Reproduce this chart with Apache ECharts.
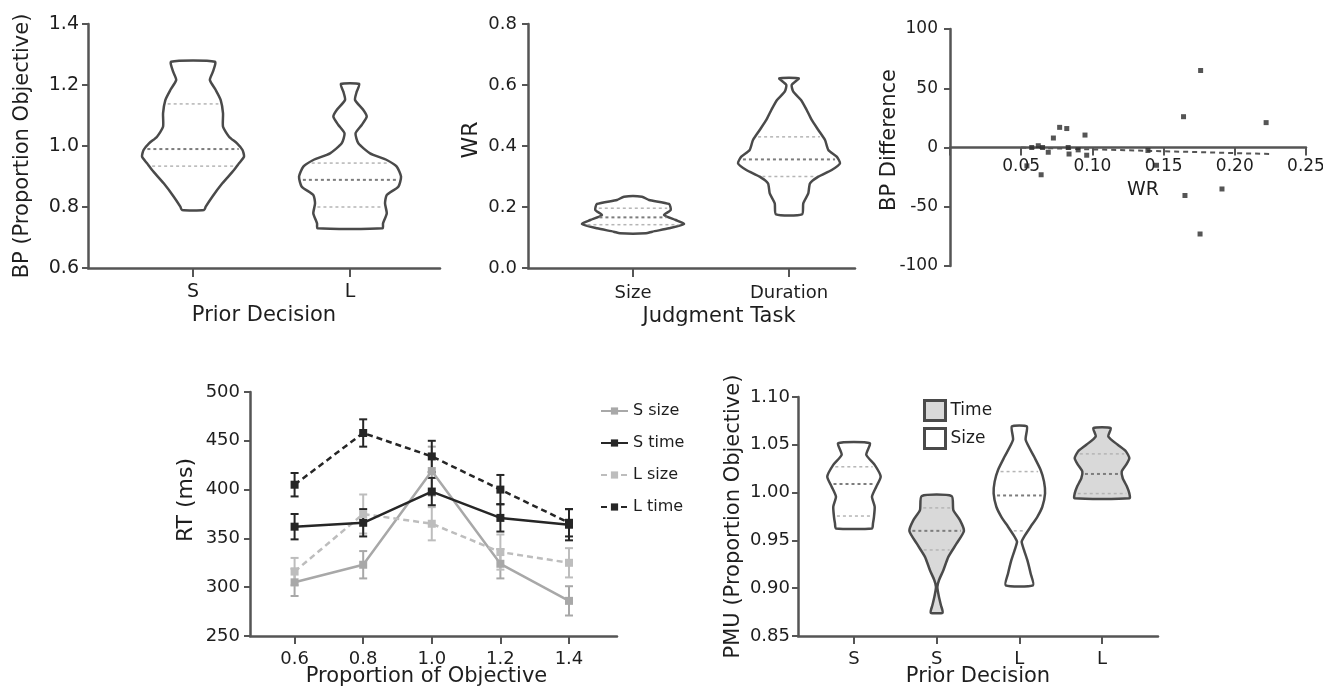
<!DOCTYPE html>
<html><head><meta charset="utf-8">
<script src="https://cdn.jsdelivr.net/npm/echarts@6/dist/echarts.min.js"></script>
<style>html,body{margin:0;padding:0;background:#fff}#c{width:1323px;height:690px}</style>
</head><body><div id="c"></div>
<script>
// ================= DATA =================
// Panel A: BP (Proportion Objective) by prior decision – violin density profiles [value, relative density]
const bpCategories = ['S', 'L'];
const bpProfileS = [[1.2765,0.43],[1.2437,0.39],[1.2164,0.33],[1.1836,0.445],[1.1508,0.543],[1.1071,0.588],[1.0633,0.588],[1.0305,0.706],[1.0087,0.863],[0.9868,0.97],[0.965,1.0],[0.9432,0.902],[0.9213,0.804],[0.8776,0.575],[0.8338,0.378],[0.801,0.249],[0.7901,0.216]];
const bpProfileL = [[1.2033,0.18],[1.1781,0.131],[1.1508,0.098],[1.118,0.261],[1.0961,0.327],[1.0688,0.229],[1.0416,0.108],[1.0087,0.163],[0.976,0.392],[0.9541,0.72],[0.9322,0.916],[0.8994,1.0],[0.8666,0.947],[0.8393,0.72],[0.812,0.686],[0.7792,0.72],[0.7465,0.647],[0.7301,0.637]];
const bpQuartiles = [[1.138, 0.99, 0.934], [0.944, 0.889, 0.80]];  // [Q3, median, Q1]

// Panel B: WR by judgment task
const wrCategories = ['Size', 'Duration'];
const wrProfileSize = [[0.2339,0.176],[0.223,0.314],[0.2099,0.706],[0.1902,0.739],[0.1738,0.608],[0.1574,0.837],[0.1443,1.0],[0.1301,0.706],[0.1191,0.378],[0.1137,0.255]];
const wrProfileDuration = [[0.6219,0.19],[0.6,0.053],[0.5782,0.084],[0.5509,0.235],[0.5181,0.347],[0.4853,0.445],[0.4525,0.575],[0.4197,0.706],[0.3869,0.771],[0.3651,0.935],[0.3432,1.0],[0.3214,0.837],[0.2995,0.575],[0.2776,0.412],[0.2448,0.378],[0.2121,0.28],[0.176,0.255]];
const wrQuartiles = [[0.196, 0.166, 0.142], [0.43, 0.356, 0.30]];

// Panel C: BP difference vs WR
const scatterWR = [0.176,0.164,0.222,0.077,0.082,0.0726,0.0948,0.0574,0.062,0.065,0.069,0.083,0.0836,0.090,0.096,0.064,0.054,0.139,0.145,0.165,0.191,0.1756];
const scatterBPDiff = [65,26,21,17,16,8,10.5,0,1.5,0,-4,0,-5.5,-2,-6.5,-23,-15.5,-2.5,-15,-40.5,-35,-73];
const fitWR = [0.05, 0.225];
const fitBPDiff = [0, -5.5];

// Panel D: RT (ms) by proportion of objective
const rtX = [0.6, 0.8, 1.0, 1.2, 1.4];
const rtSSize = [305, 323, 419, 324, 286];
const rtSSizeErr = [14, 14, 25, 15, 15];
const rtSTime = [362, 366, 398, 371, 364];
const rtSTimeErr = [13, 14, 14, 14, 16];
const rtLSize = [316, 375, 365, 336, 325];
const rtLSizeErr = [14, 20, 17, 18, 15];
const rtLTime = [405, 458, 434, 400, 366];
const rtLTimeErr = [12, 14, 16, 15, 14];

// Panel E: PMU by prior decision and task
const pmuCategories = ['S', 'S', 'L', 'L'];
const pmuTask = ['Size', 'Time', 'Size', 'Time'];
const pmuProfiles = [
  [[1.0517,0.575],[1.0395,0.447],[1.029,0.753],[1.0167,0.971],[1.0062,0.811],[0.9957,0.655],[0.9852,0.753],[0.9747,0.727],[0.9678,0.691],[0.9625,0.655]],
  [[0.9964,0.545],[0.9817,0.607],[0.9712,0.847],[0.96,0.993],[0.9468,0.727],[0.9328,0.425],[0.9188,0.244],[0.9083,0.084],[0.9013,0.025],[0.8908,0.084],[0.8821,0.156],[0.8744,0.218]],
  [[1.0692,0.273],[1.0552,0.229],[1.0377,0.535],[1.0237,0.775],[1.0115,0.898],[0.9992,0.935],[0.9852,0.836],[0.9747,0.655],[0.9643,0.411],[0.9538,0.171],[0.9485,0.084],[0.9398,0.171],[0.9293,0.291],[0.9153,0.411],[0.903,0.498]],
  [[1.0674,0.316],[1.0587,0.229],[1.05,0.571],[1.043,0.873],[1.036,0.993],[1.029,0.873],[1.022,0.716],[1.015,0.753],[1.0062,0.909],[0.9992,0.993],[0.994,1.0]]
];
const pmuQuartiles = [[1.027, 1.009, 0.9755], [0.984, 0.96, 0.94], [1.022, 0.997, 0.96], [1.0405, 1.0195, 0.999]];

// ================= RENDERING =================
const AX = '#555', TX = '#1e1e1e', OUT = '#4a4a4a', GRAYFILL = '#d9d9d9';
const FONT = 'DejaVu Sans';

function interp(profile, v) {
  for (let i = 0; i < profile.length - 1; i++) {
    const a = profile[i], b = profile[i + 1];
    if (v <= a[0] && v >= b[0]) { const t = (a[0] - v) / (a[0] - b[0]); return a[1] + (b[1] - a[1]) * t; }
  }
  return 0;
}
function violinRender(profiles, quartiles, maxHalf, fill) {
  return function (params, api) {
    const xv = api.value(0);
    const idx = api.value(2);
    const prof = profiles[idx];
    const right = [], left = [];
    prof.forEach(function (p) {
      const c = api.coord([xv, p[0]]);
      right.push([c[0] + p[1] * maxHalf, c[1]]);
      left.push([c[0] - p[1] * maxHalf, c[1]]);
    });
    const pts = right.concat(left.reverse());
    const children = [{ type: 'polygon', shape: { points: pts, smooth: 0.2 }, style: { fill: fill, stroke: OUT, lineWidth: 2.5 } }];
    quartiles[idx].forEach(function (v, k) {
      const c = api.coord([xv, v]);
      const w = Math.max(interp(prof, v) * maxHalf - 3, 0);
      children.push({ type: 'line', shape: { x1: c[0] - w, y1: c[1], x2: c[0] + w, y2: c[1] },
        style: { stroke: k === 1 ? '#7d7d7d' : '#b5b5b5', lineWidth: k === 1 ? 2 : 1.5, lineDash: [3, 3] } });
    });
    return { type: 'group', children: children };
  };
}
function errRender(color) {
  return function (params, api) {
    const x = api.value(0), y = api.value(1), e = api.value(2);
    const t = api.coord([x, y + e]), b = api.coord([x, y - e]);
    const cap = 4;
    const st = { stroke: color, lineWidth: 2 };
    return { type: 'group', children: [
      { type: 'line', shape: { x1: t[0], y1: t[1], x2: b[0], y2: b[1] }, style: st },
      { type: 'line', shape: { x1: t[0] - cap, y1: t[1], x2: t[0] + cap, y2: t[1] }, style: st },
      { type: 'line', shape: { x1: b[0] - cap, y1: b[1], x2: b[0] + cap, y2: b[1] }, style: st }
    ] };
  };
}

function axisCommon(o) {
  const base = {
    type: 'value',
    axisLine: { show: true, onZero: false, lineStyle: { color: AX, width: 2.5 } },
    axisTick: { show: true, length: 6, lineStyle: { color: AX, width: 2 } },
    axisLabel: { color: TX, fontFamily: FONT, fontSize: 18 },
    splitLine: { show: false },
    nameLocation: 'middle',
    nameMoveOverlap: false,
    nameTextStyle: { color: TX, fontFamily: FONT, fontSize: 21 }
  };
  const r = Object.assign({}, base, o);
  ['axisLine', 'axisTick', 'axisLabel', 'nameTextStyle'].forEach(function (k) {
    if (o[k]) r[k] = Object.assign({}, base[k], o[k]);
  });
  return r;
}

const grids = [
  { left: 88, top: 24, width: 352, height: 244, outerBoundsMode: 'none' },
  { left: 528, top: 24, width: 327, height: 244, outerBoundsMode: 'none' },
  { left: 950, top: 29, width: 356, height: 237, outerBoundsMode: 'none' },
  { left: 250, top: 392, width: 367, height: 244, outerBoundsMode: 'none' },
  { left: 798, top: 397, width: 360, height: 239, outerBoundsMode: 'none' },
  // upper half of panel C: its bottom edge is the zero line, carrying the WR axis
  { left: 950, top: 29, width: 356, height: 118.5, outerBoundsMode: 'none' }
];

const pos2 = bpCategories.map(function (c, i) { return i + 1; });
const pos4 = pmuCategories.map(function (c, i) { return i + 1; });

const xAxes = [
  axisCommon({ gridIndex: 0, min: 0.331, max: 2.573,
    axisTick: { customValues: pos2, length: 9 },
    axisLabel: { customValues: pos2, margin: 15, fontSize: 19, formatter: function (v) { return bpCategories[Math.round(v) - 1] || ''; } },
    name: 'Prior Decision', nameGap: 37 }),
  axisCommon({ gridIndex: 1, min: 0.327, max: 2.423,
    axisTick: { customValues: pos2, length: 9 },
    axisLabel: { customValues: pos2, margin: 16, fontSize: 18, formatter: function (v) { return wrCategories[Math.round(v) - 1] || ''; } },
    name: 'Judgment Task', nameGap: 38, nameTextStyle: { padding: [0, 0, 0, 55] } }),
  { gridIndex: 2, type: 'value', min: 0, max: 0.25, show: false, splitLine: { show: false } },
  axisCommon({ gridIndex: 3, min: 0.47, max: 1.54,
    axisTick: { customValues: rtX, length: 8 },
    axisLabel: { customValues: rtX, margin: 14, fontSize: 18, formatter: function (v) { return v.toFixed(1); } },
    name: 'Proportion of Objective', nameGap: 30, nameTextStyle: { padding: [0, 14, 0, 0] } }),
  axisCommon({ gridIndex: 4, min: 0.323, max: 4.677,
    axisTick: { customValues: pos4, length: 8 },
    axisLabel: { customValues: pos4, margin: 14, fontSize: 18, formatter: function (v) { return pmuCategories[Math.round(v) - 1] || ''; } },
    name: 'Prior Decision', nameGap: 30 }),
  axisCommon({ gridIndex: 5, min: 0, max: 0.25, interval: 0.05,
    axisTick: { length: 8 },
    axisLabel: { margin: 11, fontSize: 17, formatter: function (v) { return v === 0 ? '' : v.toFixed(2); } },
    name: 'WR', nameGap: 33, nameTextStyle: { fontSize: 19, padding: [0, 0, 0, 30] } })
];

const yAxes = [
  axisCommon({ gridIndex: 0, min: 0.6, max: 1.4, interval: 0.2,
    axisLabel: { margin: 9, fontSize: 19, formatter: function (v) { return v.toFixed(1); } },
    name: 'BP (Proportion Objective)', nameGap: 55 }),
  axisCommon({ gridIndex: 1, min: 0, max: 0.8, interval: 0.2,
    axisLabel: { margin: 11, fontSize: 18, formatter: function (v) { return v.toFixed(1); } },
    name: 'WR', nameGap: 46, nameTextStyle: { fontSize: 22, padding: [0, 0, 0, 12] } }),
  axisCommon({ gridIndex: 2, min: -100, max: 100, interval: 50,
    axisLabel: { margin: 12, fontSize: 17 },
    name: 'BP Difference', nameGap: 50, nameTextStyle: { padding: [0, 0, 0, 15] } }),
  axisCommon({ gridIndex: 3, min: 250, max: 500, interval: 50,
    axisLabel: { margin: 10, fontSize: 18 },
    name: 'RT (ms)', nameGap: 53, nameTextStyle: { fontSize: 22, padding: [0, 0, 0, 28] } }),
  axisCommon({ gridIndex: 4, min: 0.85, max: 1.10, interval: 0.05,
    axisLabel: { margin: 8, fontSize: 18, formatter: function (v) { return v.toFixed(2); } },
    name: 'PMU (Proportion Objective)', nameGap: 54 }),
  { gridIndex: 5, type: 'value', min: 0, max: 100, show: false, splitLine: { show: false } }
];

function lineSeries(name, ys, color, dashed) {
  return { name: name, type: 'line', xAxisIndex: 3, yAxisIndex: 3,
    data: rtX.map(function (x, i) { return [x, ys[i]]; }),
    symbol: 'rect', symbolSize: 8, z: 3,
    lineStyle: { color: color, width: 2.5, type: dashed ? [6, 4] : 'solid' },
    itemStyle: { color: color } };
}
function errSeries(name, ys, es, color) {
  return { name: name, type: 'custom', xAxisIndex: 3, yAxisIndex: 3, z: 2,
    data: rtX.map(function (x, i) { return [x, ys[i], es[i]]; }),
    encode: { x: 0, y: 1 }, renderItem: errRender(color) };
}

const LIGHT = '#a8a8a8', LIGHT2 = '#bdbdbd', DARK = '#262626';

const series = [
  { name: 'BP violins', type: 'custom', xAxisIndex: 0, yAxisIndex: 0, encode: { x: 0, y: 1 },
    data: bpCategories.map(function (c, i) { return [i + 1, bpQuartiles[i][1], i]; }),
    renderItem: violinRender([bpProfileS, bpProfileL], bpQuartiles, 51, '#fff') },
  { name: 'WR violins', type: 'custom', xAxisIndex: 1, yAxisIndex: 1, encode: { x: 0, y: 1 },
    data: wrCategories.map(function (c, i) { return [i + 1, wrQuartiles[i][1], i]; }),
    renderItem: violinRender([wrProfileSize, wrProfileDuration], wrQuartiles, 51, '#fff') },
  { name: 'BP diff', type: 'scatter', xAxisIndex: 2, yAxisIndex: 2,
    data: scatterWR.map(function (x, i) { return [x, scatterBPDiff[i]]; }),
    symbol: 'rect', symbolSize: 5, itemStyle: { color: '#2b2b2b' }, z: 3 },
  { name: 'Fit', type: 'line', xAxisIndex: 2, yAxisIndex: 2,
    data: fitWR.map(function (x, i) { return [x, fitBPDiff[i]]; }),
    symbol: 'none', lineStyle: { color: '#555', width: 2, type: [5, 4] } },
  errSeries('S size err', rtSSize, rtSSizeErr, LIGHT),
  errSeries('L size err', rtLSize, rtLSizeErr, LIGHT2),
  errSeries('S time err', rtSTime, rtSTimeErr, DARK),
  errSeries('L time err', rtLTime, rtLTimeErr, DARK),
  lineSeries('S size', rtSSize, LIGHT, false),
  lineSeries('L size', rtLSize, LIGHT2, true),
  lineSeries('S time', rtSTime, DARK, false),
  lineSeries('L time', rtLTime, DARK, true),
  { name: 'Size', type: 'custom', xAxisIndex: 4, yAxisIndex: 4, encode: { x: 0, y: 1 },
    itemStyle: { color: '#fff', borderColor: OUT, borderWidth: 3 },
    data: pmuTask.map(function (t, i) { return t === 'Size' ? [i + 1, pmuQuartiles[i][1], i] : null; }).filter(Boolean),
    renderItem: violinRender(pmuProfiles, pmuQuartiles, 27.5, '#fff') },
  { name: 'Time', type: 'custom', xAxisIndex: 4, yAxisIndex: 4, encode: { x: 0, y: 1 },
    itemStyle: { color: GRAYFILL, borderColor: OUT, borderWidth: 3 },
    data: pmuTask.map(function (t, i) { return t === 'Time' ? [i + 1, pmuQuartiles[i][1], i] : null; }).filter(Boolean),
    renderItem: violinRender(pmuProfiles, pmuQuartiles, 27.5, GRAYFILL) }
];

const option = {
  animation: false,
  backgroundColor: '#fff',
  textStyle: { fontFamily: FONT },
  grid: grids,
  xAxis: xAxes,
  yAxis: yAxes,
  legend: [
    { data: ['S size', 'S time', 'L size', 'L time'], orient: 'vertical', left: 595, top: 398,
      itemWidth: 27, itemHeight: 9, itemGap: 16, selectedMode: false,
      textStyle: { color: TX, fontFamily: FONT, fontSize: 16 } },
    { data: [
        { name: 'Time', icon: 'rect', itemStyle: { color: GRAYFILL, borderColor: OUT, borderWidth: 3 } },
        { name: 'Size', icon: 'rect', itemStyle: { color: '#fff', borderColor: OUT, borderWidth: 3 } }
      ], orient: 'vertical', left: 918, top: 394, itemWidth: 21, itemHeight: 20, itemGap: 5, selectedMode: false,
      textStyle: { color: TX, fontFamily: FONT, fontSize: 17 } }
  ],
  series: series
};

const chart = echarts.init(document.getElementById('c'), null, { renderer: 'canvas' });
chart.setOption(option);
</script>
</body></html>
